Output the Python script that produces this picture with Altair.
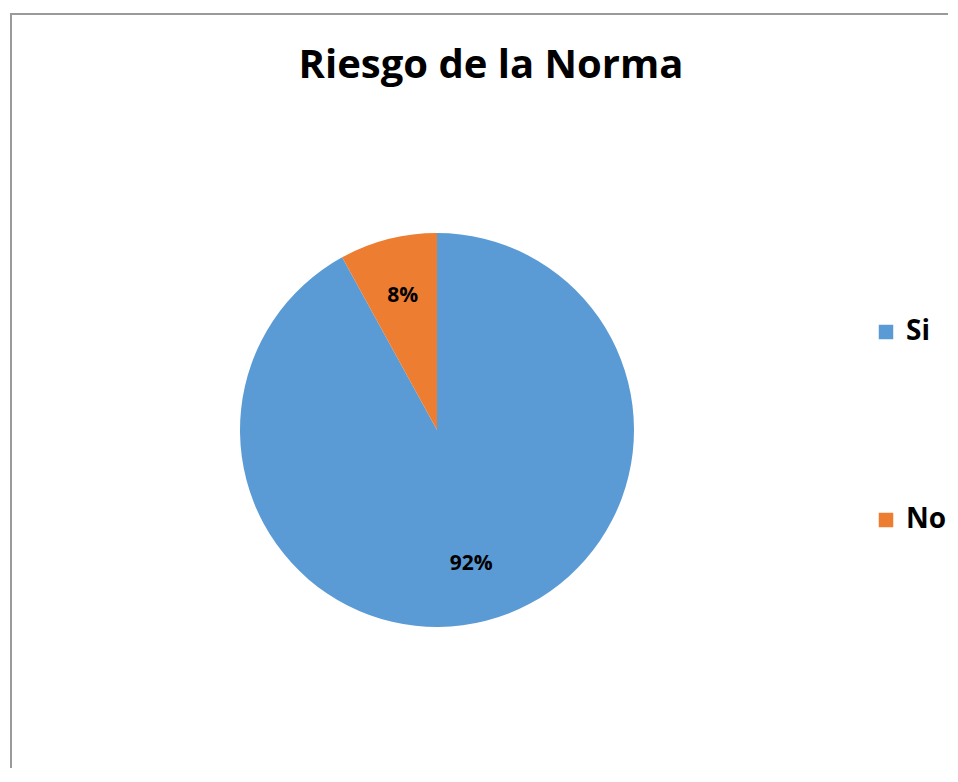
import altair as alt
import pandas as pd

categories = ["Si", "No"]
values = [92, 8]
labels = ["92%", "8%"]
colors = ["#5B9BD5", "#ED7D31"]

df = pd.DataFrame({"cat": categories, "val": values, "label": labels, "order": [0, 1]})

W, H = 940, 760
CX, CY, R = 429, 422, 197

base = alt.Chart(df)

pie = base.mark_arc(x=CX, y=CY, outerRadius=R).encode(
    theta=alt.Theta("val:Q", stack=True),
    order=alt.Order("order:Q"),
    color=alt.Color(
        "cat:N",
        scale=alt.Scale(domain=categories, range=colors),
        legend=alt.Legend(
            title=None,
            orient="none",
            legendX=864,
            legendY=310,
            symbolType="square",
            symbolSize=210,
            symbolStrokeWidth=0,
            labelFontSize=28,
            labelFontWeight="bold",
            labelFont="Open Sans",
            labelColor="#000000",
            rowPadding=160,
            labelOffset=6,
        ),
    ),
)

text = base.mark_text(
    x=CX, y=CY, radius=R * 0.7, fontSize=21, fontWeight="bold",
    font="Open Sans", color="#000000"
).encode(
    theta=alt.Theta("val:Q", stack=True),
    order=alt.Order("order:Q"),
    text="label:N",
)

frame_left = alt.Chart(df).mark_rule(color="#9a9a9a", strokeWidth=2).encode(
    x=alt.value(3), y=alt.value(5), y2=alt.value(H)
)
frame_top = alt.Chart(df).mark_rule(color="#9a9a9a", strokeWidth=2).encode(
    x=alt.value(2), x2=alt.value(W), y=alt.value(6)
)

chart = alt.layer(frame_left, frame_top, pie, text).properties(
    width=W,
    height=H,
    padding=0,
    autosize="none",
    title=alt.TitleParams(
        "Riesgo de la Norma",
        fontSize=40,
        fontWeight="bold",
        font="Open Sans",
        color="#000000",
        baseline="alphabetic",
        offset=-110,
        dx=13,
    ),
).configure_view(stroke=None)

chart.save("out.html", embed_options={"renderer": "svg", "actions": False})
